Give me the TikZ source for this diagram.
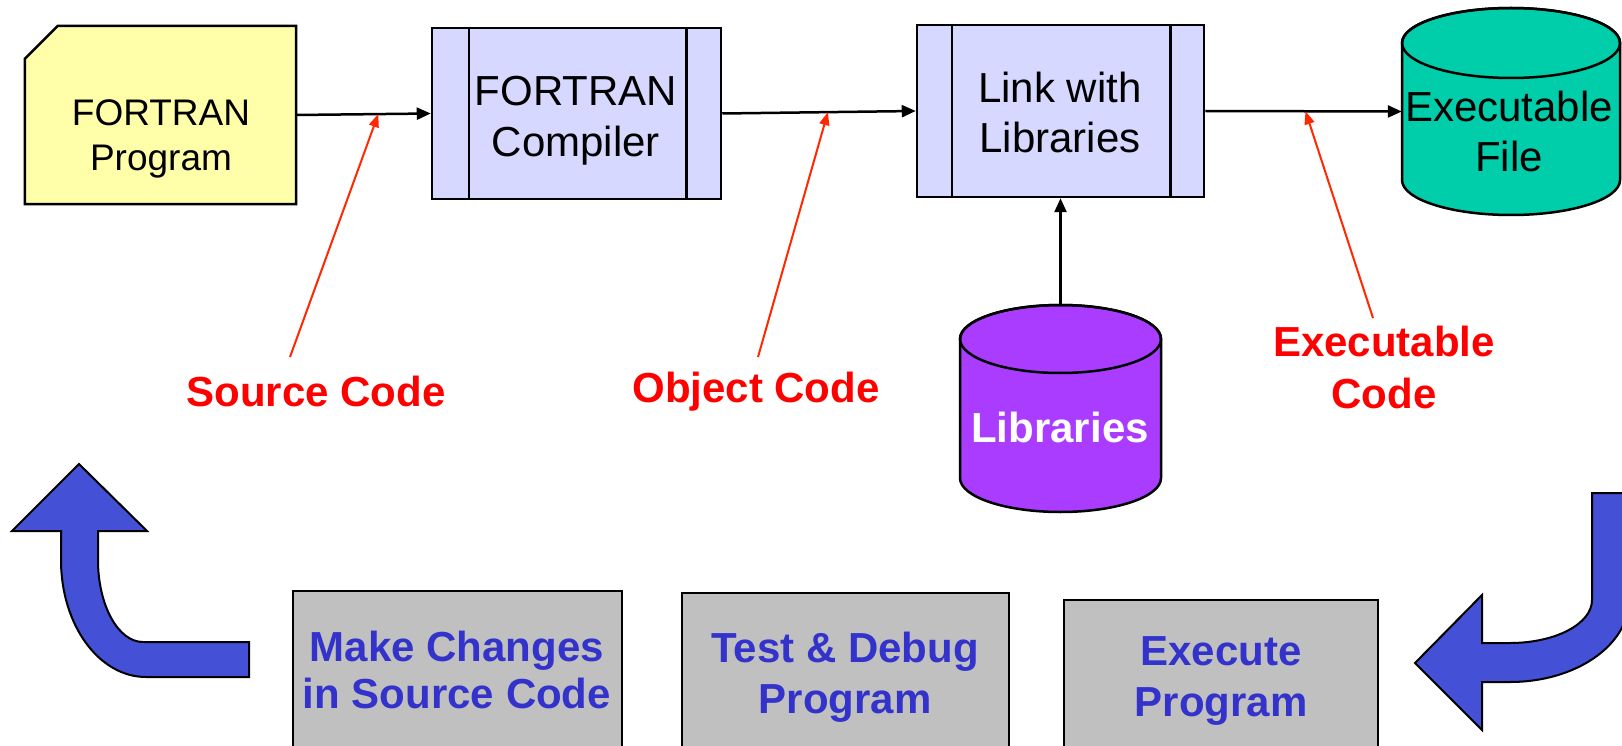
\documentclass[tikz,border=0pt]{standalone}
\usepackage{fontspec}
\setmainfont{Liberation Sans}
\usetikzlibrary{arrows.meta}
\definecolor{docyellow}{RGB}{255,255,170}
\definecolor{lav}{RGB}{214,216,255}
\definecolor{teal}{RGB}{0,206,170}
\definecolor{libpurple}{RGB}{170,60,255}
\definecolor{boxgray}{RGB}{192,192,192}
\definecolor{arrowblue}{RGB}{68,80,214}
\definecolor{textblue}{RGB}{51,51,204}
\definecolor{redline}{RGB}{255,40,0}
\definecolor{redtext}{RGB}{255,0,0}
\begin{document}
\begin{tikzpicture}[x=1pt,y=-1pt,
 conn/.style={draw=black, line width=2.5pt, -{Triangle[length=14pt,width=12pt]}},
 redarrow/.style={draw=redline, line width=2pt, -{Triangle[length=13pt,width=10pt]}},
 redlabel/.style={text=redtext, font=\fontsize{42}{52}\selectfont\bfseries, align=center, inner sep=0pt},
 bluelabel/.style={text=textblue, font=\fontsize{42}{47}\selectfont\bfseries, align=center, inner sep=0pt},
 shapeline/.style={draw=black, line width=2.5pt},
 procbox/.style={shapeline, fill=lav, rectangle, inner sep=0pt},
 graybox/.style={shapeline, fill=boxgray, rectangle, inner sep=0pt},
 blockarrow/.style={draw=black, line width=2pt, fill=arrowblue, line join=miter},
 bigtext/.style={font=\fontsize{42}{50}\selectfont, align=center, inner sep=0pt},
 holder/.style={rectangle, inner sep=0pt},
]
\useasboundingbox (0,0) rectangle (1622,746);

% FORTRAN Program (document shape)
\node[holder, minimum width=271pt, minimum height=178pt] (prog) at (160.5,115) {};
\draw[shapeline, fill=docyellow, line join=miter] (prog.south west) -- ([yshift=-33pt]prog.north west) -- ([xshift=33pt]prog.north west) -- (prog.north east) -- (prog.south east) -- cycle;
\node[font=\fontsize{37}{45}\selectfont, align=center, inner sep=0pt] (progtext) at (161,139) {FORTRAN\\Program};

% Compiler
\node[procbox, minimum width=289pt, minimum height=171pt] (comp) at (576.5,113.5) {};
\draw[shapeline] ([xshift=38pt]comp.north west) -- ([xshift=38pt]comp.south west);
\draw[shapeline] ([xshift=-36pt]comp.north east) -- ([xshift=-36pt]comp.south east);
\node[bigtext, font=\fontsize{42}{51}\selectfont] (comptext) at (576,121) {FORTRAN\\Compiler};

% Link
\node[procbox, minimum width=287pt, minimum height=172pt] (link) at (1060.5,111) {};
\draw[shapeline] ([xshift=36pt]link.north west) -- ([xshift=36pt]link.south west);
\draw[shapeline] ([xshift=-35pt]link.north east) -- ([xshift=-35pt]link.south east);
\node[bigtext] (linktext) at (1060,112) {Link with\\Libraries};

% Executable file cylinder
\node[holder, minimum width=218pt, minimum height=207pt] (exe) at (1511,111.5) {};
\draw[shapeline, fill=teal] (1402,43) -- (1402,180) arc[start angle=180, end angle=360, x radius=109pt, y radius=35pt] -- (1620,43) arc[start angle=0, end angle=180, x radius=109pt, y radius=35pt] -- cycle;
\draw[shapeline] (1511,43) ellipse[x radius=109pt, y radius=35pt];
\node[bigtext] (exetext) at (1509,131) {Executable\\File};

% Libraries cylinder
\node[holder, minimum width=201pt, minimum height=207pt] (lib) at (1060.5,408.5) {};
\draw[shapeline, fill=libpurple] (960,339) -- (960,478) arc[start angle=180, end angle=360, x radius=100.5pt, y radius=34pt] -- (1161,339) arc[start angle=0, end angle=180, x radius=100.5pt, y radius=34pt] -- cycle;
\draw[shapeline] (1060.5,339) ellipse[x radius=100.5pt, y radius=34pt];
\node[text=white, font=\fontsize{42}{50}\selectfont\bfseries, inner sep=0pt] (libtext) at (1060,427) {Libraries};

% main flow
\draw[conn] (prog.east) -- (comp.west) coordinate[pos=0.61] (srctip);
\draw[conn] (comp.east) -- (link.west) coordinate[pos=0.546] (objtip);
\draw[conn] (link.east) -- (exe.west) coordinate[pos=0.51] (exetip);
\draw[conn] (lib.north) -- (link.south);

% red labels
\node[redlabel] (srcl) at (316,391) {Source Code};
\node[redlabel] (objl) at (756,392) {Object Code};
\node[redlabel] (exel) at (1384,367) {Executable\\Code};
\coordinate (srcs) at (290,357);
\coordinate (objs) at (758,357);
\coordinate (exes) at (1373,318);
\draw[redarrow] (srcs) -- (srctip);
\draw[redarrow] (objs) -- (objtip);
\draw[redarrow] (exes) -- (exetip);

% gray boxes
\node[graybox, minimum width=329pt, minimum height=159pt] (make) at (457.5,670.5) {};
\node[bluelabel] (maketext) at (457,670) {Make Changes\\in Source Code};
\node[graybox, minimum width=327pt, minimum height=157pt] (test) at (845.5,671.5) {};
\node[bluelabel, font=\fontsize{42}{51}\selectfont\bfseries] (testtext) at (845,677) {Test \& Debug\\Program};
\node[graybox, minimum width=314pt, minimum height=150pt] (run) at (1221,675) {};
\node[bluelabel, font=\fontsize{42}{51}\selectfont\bfseries] (runtext) at (1221,681) {Execute\\Program};

% blue block arrows
\draw[blockarrow] (79,464) -- (147,531) -- (98,531) -- (98,560) .. controls (98,605) and (118,642) .. (143,642) -- (249,642) -- (249,677) -- (146,677) .. controls (99,677) and (61,625) .. (61,560) -- (61,531) -- (12,531) -- cycle;
\draw[blockarrow] (1592,493) -- (1629,493) -- (1629,600) .. controls (1629,645) and (1576,682) .. (1510,682) -- (1482,682) -- (1482,730) -- (1415,663) -- (1482,595) -- (1482,643) -- (1510,643) .. controls (1555,643) and (1592,624) .. (1592,600) -- cycle;
\end{tikzpicture}
\end{document}
